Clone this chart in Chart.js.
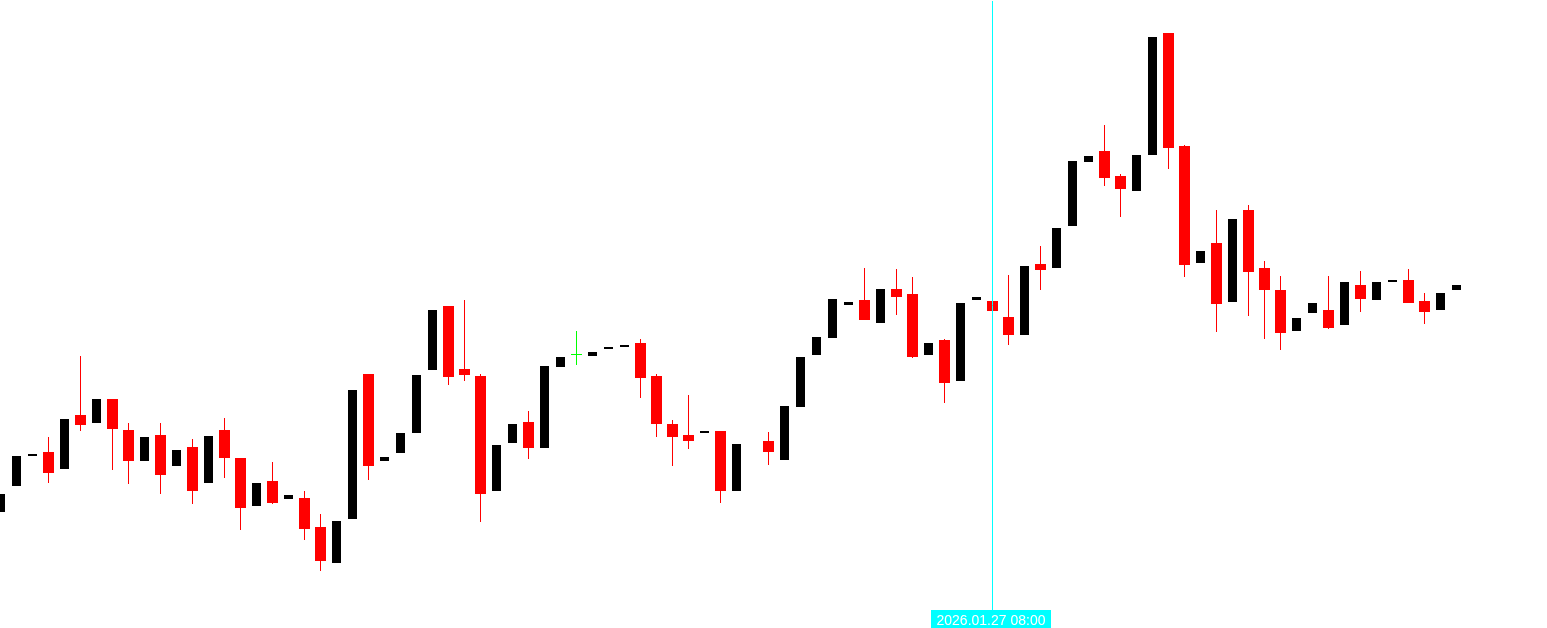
<!DOCTYPE html>
<html>
<head>
<meta charset="utf-8">
<title>K线图</title>
<script src="https://cdn.jsdelivr.net/npm/chart.js@4.4.1/dist/chart.umd.min.js"></script>
<style>
  html, body { margin: 0; padding: 0; background: #ffffff; overflow: hidden; }
  #wrap { width: 1547px; height: 628px; }
</style>
</head>
<body>
<div id="wrap"><canvas id="kline" width="1547" height="628"></canvas></div>
<script>
// K线数据（从图上读出，相对价格）
const openPrices = [116, 142, 172, 176, 159, 213, 205, 229, 198, 167, 193, 162, 181, 145, 198, 170, 122, 147, 129, 130,
  101, 65, 109, 254, 167, 175, 195, 258, 322, 259, 252, 137, 185, 206, 180, 261, 273, 272, 279, 281,
  285, 252, 204, 193, 195, 197, 137, null, 187, 168, 221, 273, 290, 323, 328, 305, 339, 334, 273, 288,
  247, 328, 327, 311, 293, 364, 360, 402, 466, 477, 452, 437, 473, 595, 482, 365, 385, 326, 418, 360,
  338, 297, 315, 318, 303, 343, 328, 346, 348, 327, 318, 338];
const highPrices = [134, 172, 174, 191, 209, 272, 229, 229, 205, 191, 205, 178, 189, 192, 210, 170, 145, 166, 133, 137,
  114, 107, 238, 254, 171, 195, 253, 318, 322, 328, 254, 183, 204, 217, 262, 271, 297, 276, 281, 283,
  289, 254, 208, 233, 197, 197, 184, null, 196, 222, 271, 291, 329, 326, 360, 339, 359, 351, 285, 289,
  325, 331, 327, 353, 362, 382, 400, 467, 472, 503, 454, 473, 591, 595, 483, 377, 418, 409, 423, 367,
  352, 310, 325, 352, 346, 357, 346, 348, 359, 335, 335, 343];
const lowPrices = [116, 142, 172, 145, 159, 197, 205, 158, 144, 167, 134, 162, 124, 145, 150, 98, 122, 124, 129, 88,
  57, 65, 109, 148, 167, 175, 195, 258, 243, 247, 106, 137, 185, 169, 180, 261, 263, 272, 279, 281,
  230, 191, 162, 179, 195, 125, 137, null, 163, 168, 221, 273, 290, 323, 308, 305, 313, 270, 273, 225,
  247, 328, 317, 283, 293, 338, 360, 402, 466, 442, 411, 437, 473, 459, 351, 365, 296, 326, 312, 289,
  278, 297, 315, 299, 303, 316, 328, 346, 325, 304, 318, 338];
const closePrices = [134, 172, 174, 155, 209, 203, 229, 199, 167, 191, 153, 178, 137, 192, 170, 120, 145, 125, 133, 99,
  67, 107, 238, 162, 171, 195, 253, 318, 251, 253, 134, 183, 204, 180, 262, 271, 273, 276, 281, 283,
  250, 204, 191, 187, 197, 137, 184, null, 176, 222, 271, 291, 329, 326, 308, 339, 331, 271, 285, 245,
  325, 331, 317, 293, 362, 358, 400, 467, 472, 450, 439, 473, 591, 480, 363, 377, 324, 409, 356, 338,
  295, 310, 325, 300, 346, 329, 346, 348, 325, 316, 335, 343];

// 十字光标所在K线和时间
const cursorIndex = 62;
const cursorLabel = '2026.01.27 08:00';

// 颜色
const upColor = '#000000';
const downColor = '#ff0000';
const dojiColor = '#00ff00';
const cursorColor = '#00ffff';

// 判断K线类型
function candleType(i) {
  const o = openPrices[i], c = closePrices[i];
  if (o === null) return null;
  if (o === c) return 'doji';
  return c > o ? 'up' : 'down';
}

// 构建数据集
function buildData() {
  const upBodies = [], downBodies = [], wicks = [];
  openPrices.forEach((o, i) => {
    const type = candleType(i);
    if (!type) return;
    if (type === 'up') {
      upBodies.push({ x: i, y: [o, closePrices[i]] });
    } else {
      downBodies.push({ x: i, y: [o, closePrices[i]], t: type });
      wicks.push({ x: i, y: [lowPrices[i], highPrices[i]], t: type });
    }
  });
  return { upBodies, downBodies, wicks };
}

// 十字光标插件
const cursorPlugin = {
  id: 'cursorLine',
  afterDatasetsDraw(chart) {
    const ctx = chart.ctx;
    const x = chart.scales.x.getPixelForValue(cursorIndex);
    const boxW = 120, boxH = 18;
    const boxTop = chart.height - boxH;
    ctx.save();
    ctx.strokeStyle = cursorColor;
    ctx.lineWidth = 1;
    ctx.beginPath();
    ctx.moveTo(x, 1);
    ctx.lineTo(x, boxTop);
    ctx.stroke();
    // 时间标签
    const left = Math.round(x) - 62;
    ctx.fillStyle = cursorColor;
    ctx.fillRect(left, boxTop, boxW, boxH);
    ctx.fillStyle = '#ffffff';
    ctx.font = '14px "Liberation Sans", Arial, sans-serif';
    ctx.textAlign = 'center';
    ctx.textBaseline = 'alphabetic';
    ctx.fillText(cursorLabel, left + boxW / 2, boxTop + 15, 111);
    ctx.restore();
  }
};

// 初始化图表
document.addEventListener('DOMContentLoaded', () => {
  const data = buildData();
  const slot = 16;
  const width = 1547;
  const xMin = -0.5 / slot;
  const xMax = xMin + width / slot;

  const colorOf = ctx => {
    const raw = ctx.raw || {};
    return raw.t === 'doji' ? dojiColor : downColor;
  };

  new Chart(document.getElementById('kline'), {
    type: 'bar',
    data: {
      datasets: [
        {
          label: 'up',
          data: data.upBodies,
          backgroundColor: upColor,
          barThickness: 9,
          minBarLength: 1,
          inflateAmount: 0,
          borderWidth: 0,
          grouped: false,
          order: 0
        },
        {
          label: 'down',
          data: data.downBodies,
          backgroundColor: colorOf,
          barThickness: 11,
          minBarLength: 1,
          inflateAmount: 0,
          borderWidth: 0,
          grouped: false,
          order: 1
        },
        {
          label: 'wick',
          data: data.wicks,
          backgroundColor: colorOf,
          barThickness: 1,
          minBarLength: 1,
          inflateAmount: 0,
          borderWidth: 0,
          grouped: false,
          order: 2
        }
      ]
    },
    options: {
      responsive: false,
      animation: false,
      events: [],
      layout: { padding: 0 },
      plugins: {
        legend: { display: false },
        tooltip: { enabled: false },
        title: { display: false }
      },
      scales: {
        x: {
          type: 'linear',
          min: xMin,
          max: xMax,
          offset: false,
          display: false
        },
        y: {
          type: 'linear',
          min: 0,
          max: 628,
          display: false
        }
      }
    },
    plugins: [cursorPlugin]
  });
});
</script>
</body>
</html>
